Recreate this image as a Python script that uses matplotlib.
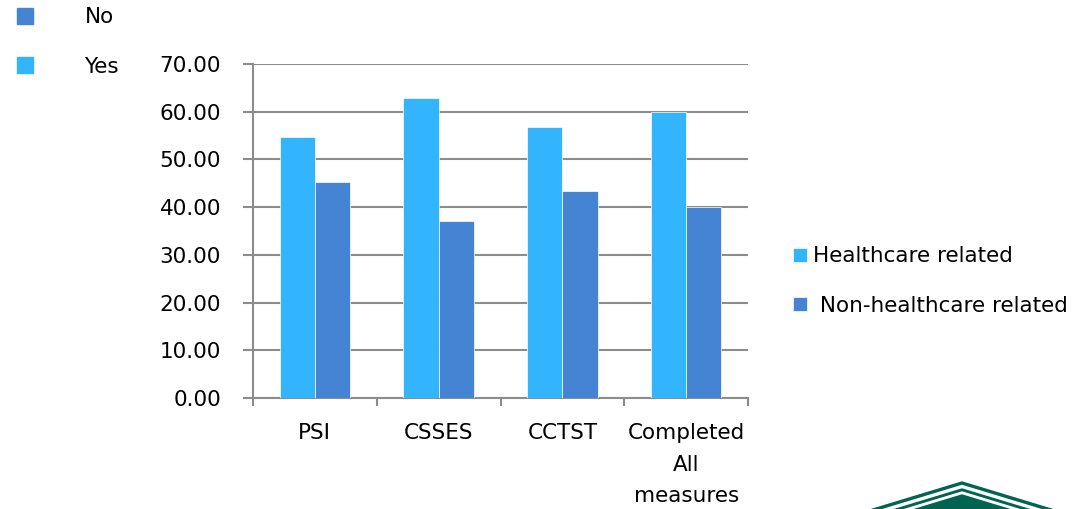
import numpy as np
import matplotlib
matplotlib.use("Agg")
import matplotlib.pyplot as plt
from matplotlib.patches import Patch, Polygon

categories = ["PSI", "CSSES", "CCTST", "Completed\nAll\nmeasures"]
healthcare = [54.8, 62.8, 56.7, 60.0]
non_healthcare = [45.2, 37.2, 43.3, 40.0]
series_names = ["Healthcare related", "Non-healthcare related"]
yes_no_labels = ["No", "Yes"]

LIGHT = "#33b5fe"
DARK = "#4584d2"
GRID = "#8c8c8c"
GREEN = "#006450"

W, H = 1086, 509
FS = 15.5
plt.rcParams["font.family"] = ["DejaVu Sans"]

fig = plt.figure(figsize=(W / 100, H / 100), dpi=100)
ax = fig.add_axes([253 / W, 1 - 398 / H, (748 - 253) / W, (398 - 64) / H])

x = np.arange(len(categories))
bw = 0.285
b1 = ax.bar(x - bw / 2, healthcare, bw, color=LIGHT, edgecolor="white", linewidth=0.5,
            label=series_names[0], zorder=3)
b2 = ax.bar(x + bw / 2, non_healthcare, bw, color=DARK, edgecolor="white", linewidth=0.5,
            label=" " + series_names[1], zorder=3)

ax.set_xlim(-0.5, len(categories) - 0.5)
ax.set_ylim(0, 70)
ax.set_yticks(np.arange(0, 71, 10))
ax.set_yticklabels([f"{v:.2f}" for v in np.arange(0, 71, 10)])
ax.yaxis.grid(True, color=GRID, linewidth=1.5, zorder=0)

# category labels sit between the boundary ticks
ax.set_xticks(np.arange(-0.5, len(categories), 1.0))
ax.set_xticklabels([])
ax.set_xticks(x, minor=True)
ax.set_xticklabels(categories, minor=True, fontsize=FS, linespacing=1.72, va="top")
ax.tick_params(axis="x", which="minor", length=0, pad=18)
ax.tick_params(axis="x", which="major", length=6, width=1.5, color=GRID)
ax.tick_params(axis="y", length=7, width=1.5, color=GRID, labelsize=FS, pad=16)

for side in ["top", "right"]:
    ax.spines[side].set_visible(False)
for side in ["left", "bottom"]:
    ax.spines[side].set_color(GRID)
    ax.spines[side].set_linewidth(1.5)

# right legend
ax.legend(handles=[b1, b2], loc="center left", bbox_to_anchor=(774 / W, 1 - 281 / H),
          bbox_transform=fig.transFigure, frameon=False, fontsize=FS,
          handlelength=0.62, handleheight=0.62, handletextpad=0.3, labelspacing=1.35)

# top-left legend
fig.legend(handles=[Patch(color=DARK), Patch(color=LIGHT)], labels=yes_no_labels,
           loc="center left", bbox_to_anchor=(-2 / W, 1 - 42 / H), frameon=False,
           fontsize=FS, handlelength=0.72, handleheight=0.72, handletextpad=2.4,
           labelspacing=1.35)

# logo corner
def tri(peak_y, color):
    slope = 27 / 89
    half = (H - peak_y) / slope + 40
    pts = [(962, peak_y), (962 - half, H + 40 * slope), (962 + half, H + 40 * slope)]
    pts = [(px / W, 1 - py / H) for px, py in pts]
    fig.add_artist(Polygon(pts, closed=True, color=color, transform=fig.transFigure,
                           clip_on=False))

tri(482, GREEN)
tri(485.5, "white")
tri(489, GREEN)
tri(492, "white")
tri(495, GREEN)

fig.savefig("out.png", dpi=100)
